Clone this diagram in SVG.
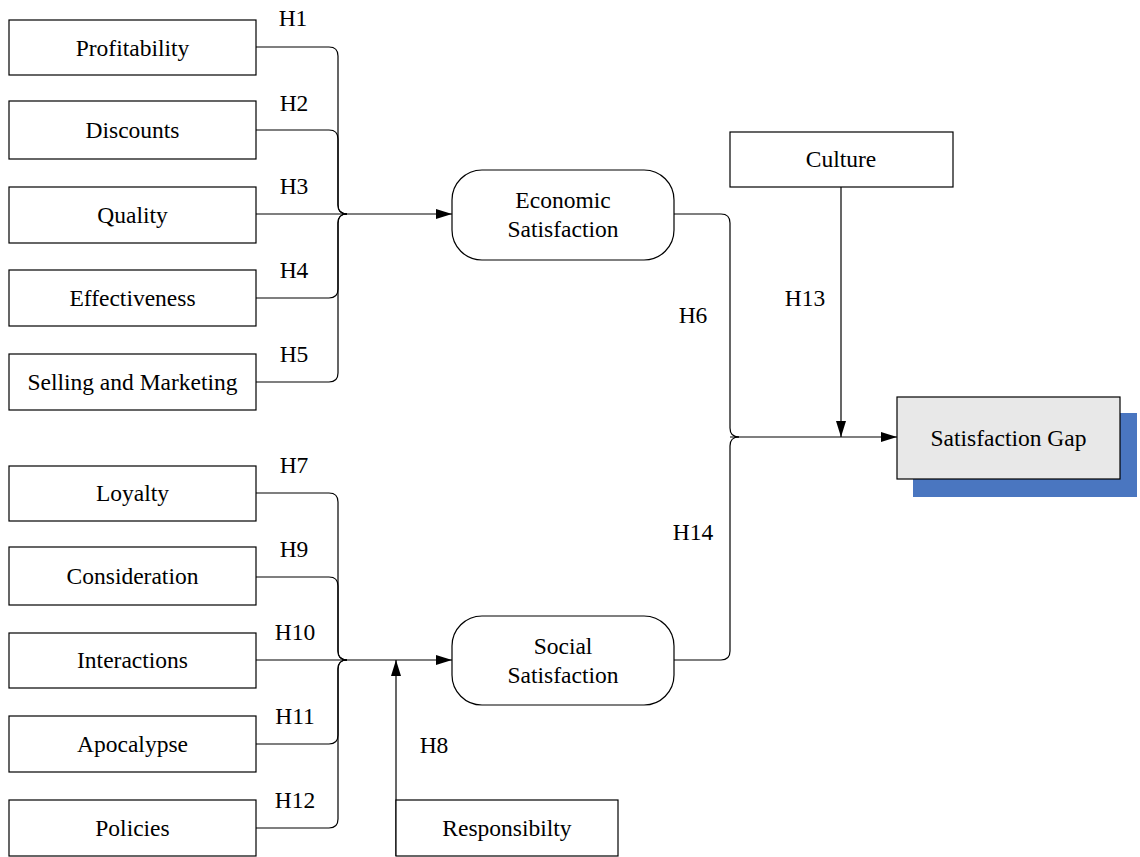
<svg xmlns="http://www.w3.org/2000/svg" width="1140" height="857" viewBox="0 0 1140 857">
  <defs>
    <marker id="arrow" viewBox="0 0 16 10" refX="16" refY="5" markerWidth="16" markerHeight="10" markerUnits="userSpaceOnUse" orient="auto">
      <path d="M0,0 L16,5 L0,10 Z" fill="#000"/>
    </marker>
    <style>
      text { font-family: "Liberation Serif", "Times New Roman", serif; font-size: 23.5px; fill: #000; }
      .lbl { text-anchor: middle; dominant-baseline: central; }
      .box { fill: #fff; stroke: #000; stroke-width: 1.2; }
      .conn { fill: none; stroke: #000; stroke-width: 1.2; }
    </style>
  </defs>
  <rect width="1140" height="857" fill="#fff"/>

  <!-- connectors -->
  <g id="connectors">
    <!-- economic group -->
    <path class="conn" d="M256,47 H329 Q338,47 338,56 V205 Q338,214 347,214"/>
    <path class="conn" d="M256,130 H329 Q338,130 338,139 V205 Q338,214 347,214"/>
    <path class="conn" d="M256,298 H329 Q338,298 338,289 V223 Q338,214 347,214"/>
    <path class="conn" d="M256,382 H329 Q338,382 338,373 V223 Q338,214 347,214"/>
    <path class="conn" d="M256,214 H452" marker-end="url(#arrow)"/>
    <!-- social group -->
    <path class="conn" d="M256,493 H329 Q338,493 338,502 V651 Q338,660 347,660"/>
    <path class="conn" d="M256,577 H329 Q338,577 338,586 V651 Q338,660 347,660"/>
    <path class="conn" d="M256,744 H329 Q338,744 338,735 V669 Q338,660 347,660"/>
    <path class="conn" d="M256,828 H329 Q338,828 338,819 V669 Q338,660 347,660"/>
    <path class="conn" d="M256,660 H452" marker-end="url(#arrow)"/>
    <!-- responsibility moderator -->
    <path class="conn" d="M396,856 V660" marker-end="url(#arrow)"/>
    <!-- to satisfaction gap -->
    <path class="conn" d="M674,214 H721 Q730,214 730,223 V428 Q730,437 739,437"/>
    <path class="conn" d="M674,660 H721 Q730,660 730,651 V446 Q730,437 739,437"/>
    <path class="conn" d="M730,437 H897" marker-end="url(#arrow)"/>
    <!-- culture moderator -->
    <path class="conn" d="M841,187 V437" marker-end="url(#arrow)"/>
  </g>

  <!-- hypothesis labels -->
  <g id="labels">
    <text x="293" y="18" class="lbl">H1</text>
    <text x="294" y="103" class="lbl">H2</text>
    <text x="294" y="186" class="lbl">H3</text>
    <text x="294" y="270" class="lbl">H4</text>
    <text x="294" y="354" class="lbl">H5</text>
    <text x="294" y="465" class="lbl">H7</text>
    <text x="294" y="549" class="lbl">H9</text>
    <text x="295" y="632" class="lbl">H10</text>
    <text x="295" y="716" class="lbl">H11</text>
    <text x="295" y="800" class="lbl">H12</text>
    <text x="434" y="745" class="lbl">H8</text>
    <text x="693" y="315" class="lbl">H6</text>
    <text x="805" y="298" class="lbl">H13</text>
    <text x="693" y="532" class="lbl">H14</text>
  </g>

  <!-- economic antecedents -->
  <g id="profitability"><rect class="box" x="9" y="20" width="247" height="55"/><text x="132.5" y="47.5" class="lbl">Profitability</text></g>
  <g id="discounts"><rect class="box" x="9" y="101" width="247" height="58"/><text x="132.5" y="130" class="lbl">Discounts</text></g>
  <g id="quality"><rect class="box" x="9" y="187" width="247" height="56"/><text x="132.5" y="215" class="lbl">Quality</text></g>
  <g id="effectiveness"><rect class="box" x="9" y="270" width="247" height="56"/><text x="132.5" y="298" class="lbl">Effectiveness</text></g>
  <g id="selling"><rect class="box" x="9" y="354" width="247" height="56"/><text x="132.5" y="382" class="lbl">Selling and Marketing</text></g>

  <!-- social antecedents -->
  <g id="loyalty"><rect class="box" x="9" y="466" width="247" height="55"/><text x="132.5" y="493" class="lbl">Loyalty</text></g>
  <g id="consideration"><rect class="box" x="9" y="547" width="247" height="58"/><text x="132.5" y="576" class="lbl">Consideration</text></g>
  <g id="interactions"><rect class="box" x="9" y="633" width="247" height="55"/><text x="132.5" y="660" class="lbl">Interactions</text></g>
  <g id="apocalypse"><rect class="box" x="9" y="716" width="247" height="56"/><text x="132.5" y="744" class="lbl">Apocalypse</text></g>
  <g id="policies"><rect class="box" x="9" y="800" width="247" height="56"/><text x="132.5" y="828" class="lbl">Policies</text></g>

  <!-- mediators -->
  <g id="economic"><rect class="box" x="452" y="170" width="222" height="90" rx="30" ry="30"/><text x="563" y="200" class="lbl">Economic</text><text x="563" y="229" class="lbl">Satisfaction</text></g>
  <g id="social"><rect class="box" x="452" y="616" width="222" height="89" rx="30" ry="30"/><text x="563" y="646" class="lbl">Social</text><text x="563" y="675" class="lbl">Satisfaction</text></g>

  <!-- moderators -->
  <g id="culture"><rect class="box" x="730" y="132" width="223" height="55"/><text x="841" y="159" class="lbl">Culture</text></g>
  <g id="responsibility"><rect class="box" x="396" y="800" width="222" height="56"/><text x="507" y="828" class="lbl">Responsibilty</text></g>

  <!-- outcome -->
  <g id="gap">
    <rect x="913" y="413" width="224" height="84" fill="#4a76c0"/>
    <rect x="897" y="397" width="223" height="82" fill="#e8e8e8" stroke="#000" stroke-width="1.2"/>
    <text x="1008.5" y="438" class="lbl">Satisfaction Gap</text>
  </g>
</svg>
